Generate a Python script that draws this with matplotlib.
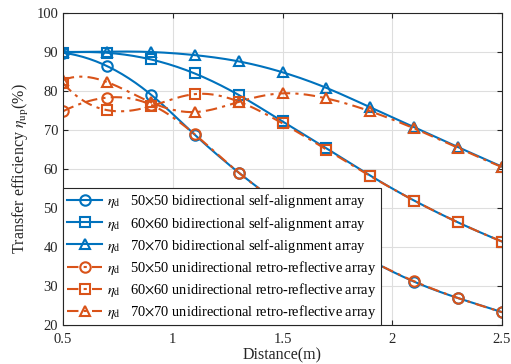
import numpy as np
import matplotlib
matplotlib.use("Agg")
import matplotlib.pyplot as plt

plt.rcParams['font.family'] = ['Liberation Serif', 'DejaVu Serif']
plt.rcParams['mathtext.fontset'] = 'stix'

# Distance (m) and transfer efficiency (%) for each array configuration
distance = [0.5, 0.7, 0.9, 1.1, 1.3, 1.5, 1.7, 1.9, 2.1, 2.3, 2.5]
bi_50 = [89.8, 86.4, 79.1, 68.8, 59.1, 50.6, 43.0, 36.6, 31.1, 26.9, 23.3]
bi_60 = [89.8, 89.8, 88.1, 84.5, 79.0, 72.2, 65.3, 58.3, 51.9, 46.3, 41.4]
bi_70 = [90.0, 90.1, 90.0, 89.2, 87.6, 84.8, 80.8, 75.8, 70.7, 65.6, 60.6]
uni_50 = [74.8, 78.3, 76.5, 68.9, 59.1, 50.6, 43.0, 36.6, 31.2, 26.9, 23.3]
uni_60 = [82.0, 75.1, 76.1, 79.2, 77.3, 71.7, 65.0, 58.2, 51.9, 46.3, 41.4]
uni_70 = [82.8, 82.3, 77.1, 74.6, 77.2, 79.4, 78.1, 74.8, 70.4, 65.4, 60.5]

labels = [
    r"$\eta_{\rm d}$   50$\times$50 bidirectional self-alignment array",
    r"$\eta_{\rm d}$   60$\times$60 bidirectional self-alignment array",
    r"$\eta_{\rm d}$   70$\times$70 bidirectional self-alignment array",
    r"$\eta_{\rm d}$   50$\times$50 unidirectional retro-reflective array",
    r"$\eta_{\rm d}$   60$\times$60 unidirectional retro-reflective array",
    r"$\eta_{\rm d}$   70$\times$70 unidirectional retro-reflective array",
]


def spline_curve(x, y, xs):
    """Not-a-knot cubic spline through equally spaced points."""
    x = np.asarray(x, float)
    y = np.asarray(y, float)
    n = len(x)
    h = x[1] - x[0]
    A = np.zeros((n, n))
    b = np.zeros(n)
    A[0, 0:3] = [1, -2, 1]
    A[-1, -3:] = [1, -2, 1]
    for i in range(1, n - 1):
        A[i, i - 1:i + 2] = [1, 4, 1]
        b[i] = 6.0 / h ** 2 * (y[i - 1] - 2 * y[i] + y[i + 1])
    M = np.linalg.solve(A, b)
    idx = np.clip(np.searchsorted(x, xs, side='right') - 1, 0, n - 2)
    x0, x1 = x[idx], x[idx + 1]
    return (M[idx] * (x1 - xs) ** 3 / (6 * h) + M[idx + 1] * (xs - x0) ** 3 / (6 * h)
            + (y[idx] / h - M[idx] * h / 6) * (x1 - xs)
            + (y[idx + 1] / h - M[idx + 1] * h / 6) * (xs - x0))


blue = '#0072BD'
orange = '#D95319'
dashdot = (0, (5.5, 2.5, 1.5, 2.5))

fig = plt.figure(figsize=(5.11, 3.64), dpi=100)
ax = fig.add_axes([0.1233, 0.1071, 0.8591, 0.8572])

xs = np.round(np.linspace(0.5, 2.5, 201), 6)
marks = list(range(0, 201, 20))

series = [
    (bi_50, blue, '-', 'o'),
    (bi_60, blue, '-', 's'),
    (bi_70, blue, '-', '^'),
    (uni_50, orange, dashdot, 'o'),
    (uni_60, orange, dashdot, 's'),
    (uni_70, orange, dashdot, '^'),
]
for (vals, col, ls, mk), lab in zip(series, labels):
    ax.plot(xs, spline_curve(distance, vals, xs), color=col, linestyle=ls,
            linewidth=1.5, marker=mk, markevery=marks, markersize=7.5,
            markerfacecolor='none', markeredgewidth=1.5, label=lab)

ax.set_xlim(0.5, 2.5)
ax.set_ylim(20, 100)
ax.set_xticks([0.5, 1, 1.5, 2, 2.5])
ax.set_xticklabels(['0.5', '1', '1.5', '2', '2.5'])
ax.set_yticks(range(20, 101, 10))
ax.grid(True, color='#dedede', linewidth=0.8)
ax.set_axisbelow(True)
ax.tick_params(direction='in', top=True, right=True, labelsize=10.5,
               length=3.5, width=0.8, colors='#262626', labelcolor='#262626')
ax.tick_params(axis='x', pad=6)
for sp in ax.spines.values():
    sp.set_color('#262626')
    sp.set_linewidth(0.8)

ax.set_xlabel('Distance(m)', fontsize=11.5, color='#262626', labelpad=1)
ax.set_ylabel(r'Transfer efficiency $\eta_{\rm up}$(%)', fontsize=11.5,
              color='#262626', labelpad=4)

leg = ax.legend(loc='lower left', bbox_to_anchor=(0, 0), borderaxespad=0,
                fontsize=10.4, handlelength=2.4, handletextpad=0.35,
                labelspacing=0.28, borderpad=0.3, fancybox=False,
                framealpha=1, edgecolor='#262626')
leg.get_frame().set_linewidth(0.8)

fig.savefig('out.png', dpi=100)
